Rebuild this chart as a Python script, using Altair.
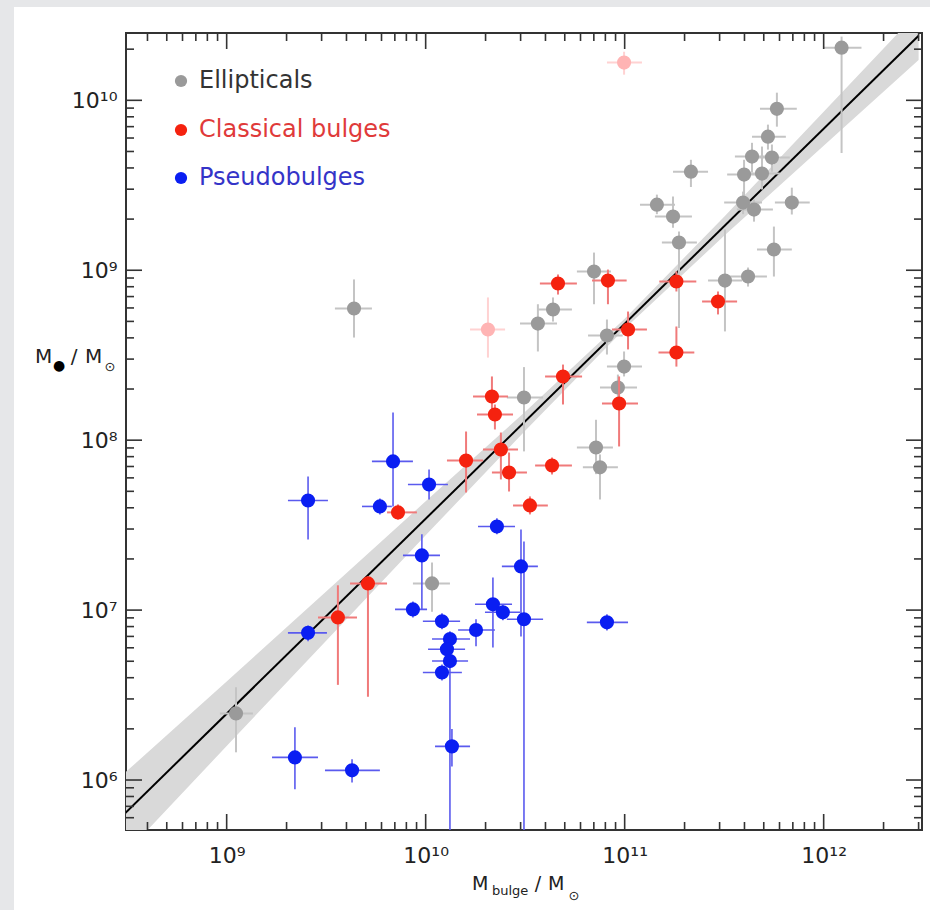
import altair as alt
import numpy as np
import pandas as pd

# ---------------- data (log10 values) ----------------
# Ellipticals
ell_lx = [12.09, 11.765, 11.72, 11.64, 11.74, 11.60, 11.69, 11.84, 11.595, 11.65, 11.75, 11.504, 11.62,
          11.333, 11.162, 11.243, 11.273, 10.846, 9.64, 10.64, 10.564, 10.911, 10.997, 10.966, 10.494,
          10.856, 10.876, 10.032, 9.047]
ell_ly = [10.31, 9.95, 9.786, 9.669, 9.663, 9.563, 9.569, 9.398, 9.398, 9.357, 9.122, 8.939, 8.963,
          9.58, 9.386, 9.316, 9.163, 8.992, 8.775, 8.769, 8.686, 8.616, 8.433, 8.31, 8.251,
          7.957, 7.84, 7.157, 6.392]
ell_xlo = [12.00, 11.68, 11.64, 11.554, 11.655, 11.515, 11.605, 11.755, 11.50, 11.564, 11.665, 11.419, 11.53,
           11.243, 11.077, 11.152, 11.187, 10.76, 9.544, 10.564, 10.474, 10.816, 10.911, 10.876, 10.408,
           10.76, 10.79, 9.936, 8.966]
ell_xhi = [12.19, 11.865, 11.81, 11.73, 11.83, 11.695, 11.78, 11.93, 11.69, 11.745, 11.84, 11.59, 11.715,
           11.419, 11.253, 11.338, 11.363, 10.931, 9.73, 10.735, 10.66, 10.99, 11.087, 11.062, 10.59,
           10.941, 10.966, 10.122, 9.132]
ell_ylo = [9.69, 9.845, 9.71, 9.575, 9.58, 9.398, 9.475, 9.328, 9.33, 9.286, 8.963, 8.64, 8.904,
           9.49, 9.33, 9.25, 8.66, 8.80, 8.604, 8.698, 8.522, 8.504, 8.375, 8.24, 7.934,
           7.80, 7.651, 6.99, 6.163]
ell_yhi = [10.375, 10.045, 9.857, 9.75, 9.74, 9.65, 9.728, 9.486, 9.463, 9.416, 9.257, 9.24, 9.016,
           9.65, 9.445, 9.434, 9.228, 9.104, 8.946, 8.84, 8.80, 8.71, 8.522, 8.386, 8.43,
           8.12, 7.916, 7.28, 6.546]

# Omitted (light) points
omit_lx = [10.997, 10.313]
omit_ly = [10.222, 8.651]
omit_xlo = [10.911, 10.223]
omit_xhi = [11.087, 10.399]
omit_ylo = [10.151, 8.486]
omit_yhi = [10.286, 8.84]

# Classical bulges
cla_lx = [10.665, 10.916, 11.26, 11.469, 11.017, 11.26, 10.69, 10.972, 10.333, 10.348, 10.203, 10.378,
          10.419, 10.635, 10.524, 9.861, 9.71, 9.559]
cla_ly = [8.922, 8.939, 8.934, 8.816, 8.651, 8.516, 8.375, 8.216, 8.257, 8.151, 7.88, 7.945,
          7.81, 7.851, 7.616, 7.575, 7.157, 6.957]
cla_xlo = [10.574, 10.836, 11.174, 11.389, 10.936, 11.17, 10.60, 10.886, 10.238, 10.258, 10.107, 10.288,
           10.333, 10.55, 10.439, 9.806, 9.62, 9.459]
cla_xhi = [10.76, 11.01, 11.36, 11.565, 11.112, 11.35, 10.786, 11.067, 10.414, 10.439, 10.288, 10.464,
           10.509, 10.735, 10.614, 9.956, 9.806, 9.655]
cla_ylo = [8.857, 8.80, 8.875, 8.74, 8.534, 8.433, 8.21, 7.963, 8.122, 8.063, 7.692, 7.769,
           7.698, 7.798, 7.563, 7.533, 6.49, 6.56]
cla_yhi = [8.975, 9.004, 8.993, 8.875, 8.757, 8.669, 8.445, 8.375, 8.375, 8.21, 8.051, 8.045,
           7.927, 7.898, 7.669, 7.622, 7.199, 7.146]

# Pseudobulges
pse_lx = [9.836, 10.017, 9.409, 9.77, 9.981, 10.358, 10.479, 9.936, 10.082, 10.338, 10.388, 10.494,
          10.253, 10.122, 10.107, 10.122, 10.082, 10.132, 10.911, 9.409, 9.343, 9.63]
pse_ly = [7.875, 7.739, 7.645, 7.61, 7.322, 7.492, 7.257, 7.004, 6.934, 7.034, 6.987, 6.946,
          6.883, 6.83, 6.77, 6.70, 6.633, 6.198, 6.928, 6.866, 6.133, 6.057]
pse_xlo = [9.73, 9.911, 9.308, 9.68, 9.886, 10.263, 10.383, 9.846, 9.986, 10.248, 10.298, 10.408,
           10.163, 10.032, 10.012, 10.032, 9.986, 10.047, 10.81, 9.308, 9.228, 9.494]
pse_xhi = [9.936, 10.112, 9.509, 9.83, 10.072, 10.449, 10.564, 10.007, 10.173, 10.434, 10.474, 10.59,
           10.348, 10.223, 10.198, 10.213, 10.182, 10.223, 11.017, 9.504, 9.459, 9.77]
pse_ylo = [7.61, 7.651, 7.416, 7.563, 7.005, 7.446, 6.845, 6.957, 6.887, 6.78, 6.94, 5.0,
           6.787, 6.78, 6.723, 5.0, 6.586, 6.08, 6.88, 6.817, 5.945, 5.986]
pse_yhi = [8.163, 7.828, 7.786, 7.657, 7.446, 7.54, 7.475, 7.051, 6.981, 7.192, 7.034, 7.404,
           6.946, 6.875, 6.817, 6.77, 6.68, 6.30, 6.975, 6.91, 6.31, 6.122]

# Fit line and its shaded band (log10)
fit_lx = [8.477, 12.477]
fit_ly = [5.79, 10.38]
band_lx = [8.477, 9.0, 9.5, 10.0, 10.5, 11.0, 11.5, 12.0, 12.477]
band_lo = [5.55, 6.20, 6.82, 7.44, 8.055, 8.655, 9.203, 9.733, 10.237]
band_hi = [6.03, 6.58, 7.11, 7.64, 8.167, 8.715, 9.315, 9.933, 10.523]

# Axes
x_domain = [3.12e8, 3.12e12]
y_domain = [5.08e5, 2.49e10]
x_major = [1e9, 1e10, 1e11, 1e12]
x_labels = ["10⁹", "10¹⁰", "10¹¹", "10¹²"]
y_major = [1e6, 1e7, 1e8, 1e9, 1e10]
y_labels = ["10⁶", "10⁷", "10⁸", "10⁹", "10¹⁰"]
x_minor = [k * 10.0 ** n for n in range(8, 13) for k in range(2, 10)
           if x_domain[0] <= k * 10.0 ** n <= x_domain[1]]
y_minor = [k * 10.0 ** n for n in range(5, 11) for k in range(2, 10)
           if y_domain[0] <= k * 10.0 ** n <= y_domain[1]]

legend_names = ["Ellipticals", "Classical bulges", "Pseudobulges"]

# ---------------- chart ----------------
W, H = 796, 797
FONT = "DejaVu Sans"
xsc = alt.Scale(type="log", domain=x_domain)
ysc = alt.Scale(type="log", domain=y_domain)


def tolin(a):
    return 10.0 ** np.array(a, dtype=float)


def group_df(lx, ly, xlo, xhi, ylo, yhi):
    return pd.DataFrame({"x": tolin(lx), "y": tolin(ly), "xlo": tolin(xlo), "xhi": tolin(xhi),
                         "ylo": tolin(ylo), "yhi": tolin(yhi)})


def label_expr(vals, labels):
    expr = f"'{labels[-1]}'"
    for v, lab in reversed(list(zip(vals[:-1], labels[:-1]))):
        expr = f"datum.value < {v * 3.1623:.6g} ? '{lab}' : " + expr
    return expr


XAX = alt.Axis(values=x_major, labelExpr=label_expr(x_major, x_labels),
               ticks=False, tickSize=0, domain=False, grid=False, title=None,
               labelFont=FONT, labelFontSize=22, labelColor="#222",
               labelPadding=15, labelFlush=False, labelOverlap=False)
YAX = alt.Axis(values=y_major, labelExpr=label_expr(y_major, y_labels),
               ticks=False, tickSize=0, domain=False, grid=False, title=None,
               labelFont=FONT, labelFontSize=22, labelColor="#222",
               labelPadding=9, labelFlush=False, labelOverlap=False)


def X(f):
    return alt.X(f, scale=xsc, axis=XAX)


def Y(f):
    return alt.Y(f, scale=ysc, axis=YAX)


one = pd.DataFrame({"a": [0]})

band_df = pd.DataFrame({"x": tolin(band_lx), "lo": tolin(band_lo), "hi": tolin(band_hi)})
band = alt.Chart(band_df).mark_area(color="#d9d9d9", opacity=1, clip=True).encode(
    x=X("x:Q"), y=Y("lo:Q"), y2="hi:Q")

fit_df = pd.DataFrame({"x": tolin(fit_lx), "y": tolin(fit_ly)})
fit = alt.Chart(fit_df).mark_line(color="black", strokeWidth=2, clip=True).encode(
    x=X("x:Q"), y=Y("y:Q"))


def group_layers(df, pt_color, bar_color, bar_w):
    base = alt.Chart(df)
    h = base.mark_rule(color=bar_color, strokeWidth=bar_w, clip=True).encode(
        x=X("xlo:Q"), x2="xhi:Q", y=Y("y:Q"))
    v = base.mark_rule(color=bar_color, strokeWidth=bar_w, clip=True).encode(
        x=X("x:Q"), y=Y("ylo:Q"), y2="yhi:Q")
    p = base.mark_circle(color=pt_color, size=200, opacity=1).encode(
        x=X("x:Q"), y=Y("y:Q"))
    return [h, v, p]


ell = group_layers(group_df(ell_lx, ell_ly, ell_xlo, ell_xhi, ell_ylo, ell_yhi), "#9a9a9a", "#c4c4c4", 2)
omit = group_layers(group_df(omit_lx, omit_ly, omit_xlo, omit_xhi, omit_ylo, omit_yhi), "#ffb4b4", "#ffd2d2", 2)
cla = group_layers(group_df(cla_lx, cla_ly, cla_xlo, cla_xhi, cla_ylo, cla_yhi), "#f5220f", "#f07a7a", 2)
pse = group_layers(group_df(pse_lx, pse_ly, pse_xlo, pse_xhi, pse_ylo, pse_yhi), "#0a1ef2", "#5a5aee", 1.6)

# ticks on all four sides, pointing inward
TC = "#333333"


def xticks(vals, length):
    d = pd.DataFrame({"v": vals})
    b = alt.Chart(d).mark_rule(color=TC, strokeWidth=1.6)
    bottom = b.encode(x=X("v:Q"), y=alt.value(H), y2=alt.value(H - length))
    top = b.encode(x=X("v:Q"), y=alt.value(0), y2=alt.value(length))
    return [bottom, top]


def yticks(vals, length):
    d = pd.DataFrame({"v": vals})
    b = alt.Chart(d).mark_rule(color=TC, strokeWidth=1.6)
    left = b.encode(y=Y("v:Q"), x=alt.value(0), x2=alt.value(length))
    right = b.encode(y=Y("v:Q"), x=alt.value(W), x2=alt.value(W - length))
    return [left, right]


ticks = xticks(x_major, 16) + xticks(x_minor, 8) + yticks(y_major, 16) + yticks(y_minor, 8)

# outer grey strips of the page
strips = [
    alt.Chart(one).mark_rect(color="#e6e7e9", clip=False).encode(
        x=alt.value(-126), x2=alt.value(-112), y=alt.value(-33), y2=alt.value(H + 80)),
    alt.Chart(one).mark_rect(color="#e6e7e9", clip=False).encode(
        x=alt.value(-126), x2=alt.value(W + 8), y=alt.value(-33), y2=alt.value(-26)),
]


def txt(s, x, y, size, color="#222", align="left", baseline="alphabetic"):
    return alt.Chart(one).mark_text(text=s, font=FONT, fontSize=size, color=color, align=align,
                                    baseline=baseline).encode(x=alt.value(x), y=alt.value(y))


titles = [
    # x title: M_bulge / M_sun
    txt("M", 346, 857, 19),
    txt("bulge", 366, 862, 13),
    txt("/", 412, 857, 19, align="center"),
    txt("M", 422, 857, 19),
    txt("⊙", 448, 867, 13, align="center"),
    # y title: M_bh / M_sun
    txt("M", -91, 330, 20),
    txt("●", -67, 337, 14, color="#000", align="center"),
    txt("/", -52, 330, 20, align="center"),
    txt("M", -41, 330, 20),
    txt("⊙", -16, 338, 13, align="center"),
]

leg_colors = ["#9a9a9a", "#f5220f", "#0a1ef2"]
leg_text_colors = ["#333333", "#e03a3a", "#3434c8"]
leg_rows = [48, 97, 145]
legend = []
for name, c, tc, yy in zip(legend_names, leg_colors, leg_text_colors, leg_rows):
    legend.append(alt.Chart(one).mark_circle(color=c, size=150, opacity=1).encode(
        x=alt.value(55), y=alt.value(yy)))
    legend.append(txt(name, 73, yy, 24, color=tc, baseline="middle"))

layers = strips + [band, fit] + ell + omit + cla + pse + ticks + titles + legend

chart = alt.layer(*layers).properties(
    width=W, height=H,
    padding={"left": 126, "top": 33, "right": 8, "bottom": 80},
    autosize=alt.AutoSizeParams(type="none"),
).configure(background="white").configure_view(stroke="#333333", strokeWidth=2)

chart.save("out.html", embed_options={"renderer": "svg", "actions": False})
